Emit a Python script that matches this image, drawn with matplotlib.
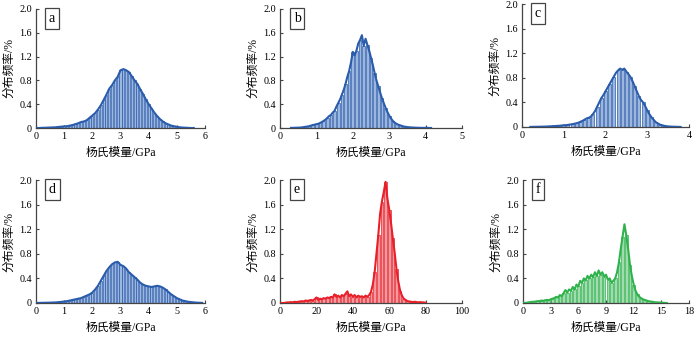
import numpy as np
import matplotlib
matplotlib.use("Agg")
import matplotlib.pyplot as plt

plt.rcParams['font.family'] = ['Liberation Serif', 'Noto Sans CJK SC', 'DejaVu Sans']

W, H = 698, 342

# ---------------- data ----------------
labels = ['a', 'b', 'c', 'd', 'e', 'f']
xlabel_text = '杨氏模量/GPa'
ylabel_text = '分布频率/%'

a_start, a_step = 0.0, 0.1
a_vals = [0.0, 0.0, 0.003, 0.004, 0.006, 0.008, 0.01, 0.012, 0.018, 0.022,
          0.028, 0.03, 0.04, 0.05, 0.065, 0.08, 0.10, 0.11, 0.13, 0.17,
          0.21, 0.25, 0.31, 0.38, 0.47, 0.56, 0.66, 0.72, 0.80, 0.86,
          0.97, 0.99, 0.97, 0.94, 0.87, 0.80, 0.74, 0.65, 0.57, 0.48,
          0.40, 0.33, 0.26, 0.20, 0.15, 0.11, 0.08, 0.06, 0.04, 0.03,
          0.02, 0.012, 0.008, 0.005, 0.003, 0.0, 0.0]

b_start, b_step = 0.3, 0.05
b_vals = [0.002, 0.003, 0.004, 0.005, 0.006, 0.008, 0.010, 0.015, 0.020, 0.025,
          0.030, 0.040, 0.050, 0.055, 0.065, 0.070, 0.085, 0.10, 0.12, 0.14,
          0.17, 0.20, 0.22, 0.26, 0.29, 0.36, 0.42, 0.48, 0.56, 0.64,
          0.74, 0.86, 0.96, 1.10, 1.28, 1.22, 1.30, 1.42, 1.48, 1.56,
          1.38, 1.50, 1.40, 1.30, 1.18, 1.06, 0.92, 0.80, 0.70, 0.60,
          0.50, 0.42, 0.34, 0.27, 0.21, 0.16, 0.12, 0.09, 0.07, 0.055,
          0.045, 0.035, 0.025, 0.02, 0.015, 0.012, 0.010, 0.008, 0.006, 0.005,
          0.004, 0.003, 0.003, 0.002, 0.004, 0.002, 0.001, 0.0]

c_start, c_step = 0.2, 0.05
c_vals = [0.002, 0.002, 0.003, 0.004, 0.004, 0.005, 0.006, 0.007, 0.008, 0.010,
          0.012, 0.014, 0.016, 0.018, 0.020, 0.024, 0.028, 0.030, 0.034, 0.040,
          0.045, 0.052, 0.060, 0.070, 0.085, 0.10, 0.12, 0.14, 0.15, 0.17,
          0.21, 0.26, 0.33, 0.40, 0.47, 0.52, 0.58, 0.64, 0.70, 0.76,
          0.82, 0.88, 0.92, 0.95, 0.93, 0.95, 0.90, 0.86, 0.81, 0.74,
          0.66, 0.58, 0.50, 0.44, 0.40, 0.34, 0.27, 0.21, 0.16, 0.12,
          0.08, 0.06, 0.04, 0.03, 0.02, 0.014, 0.010, 0.007, 0.005, 0.004,
          0.003, 0.002, 0.001]

d_start, d_step = 0.0, 0.1
d_vals = [0.0, 0.002, 0.003, 0.004, 0.005, 0.006, 0.008, 0.010, 0.014, 0.018,
          0.024, 0.03, 0.04, 0.05, 0.06, 0.07, 0.08, 0.10, 0.12, 0.14,
          0.17, 0.22, 0.28, 0.36, 0.44, 0.52, 0.58, 0.63, 0.66, 0.67,
          0.62, 0.60, 0.56, 0.50, 0.46, 0.42, 0.38, 0.33, 0.30, 0.28,
          0.27, 0.26, 0.27, 0.28, 0.27, 0.25, 0.22, 0.18, 0.14, 0.11,
          0.08, 0.06, 0.04, 0.03, 0.02, 0.015, 0.01, 0.006, 0.004, 0.002]

e_start, e_step = 0.0, 1.0
e_vals = [0.0, 0.0, 0.0, 0.005, 0.01, 0.01, 0.015, 0.01, 0.02, 0.015,
          0.02, 0.025, 0.03, 0.025, 0.04, 0.035, 0.04, 0.05, 0.04, 0.06,
          0.09, 0.05, 0.07, 0.06, 0.08, 0.07, 0.09, 0.08, 0.10, 0.09,
          0.14, 0.10, 0.12, 0.09, 0.13, 0.11, 0.15, 0.19, 0.11, 0.14,
          0.10, 0.13, 0.09, 0.12, 0.10, 0.11, 0.09, 0.12, 0.10, 0.13,
          0.18, 0.30, 0.50, 0.80, 1.10, 1.45, 1.65, 1.80, 1.97, 1.70,
          1.52, 1.30, 1.05, 0.82, 0.55, 0.35, 0.20, 0.12, 0.07, 0.05,
          0.03, 0.025, 0.02, 0.015, 0.02, 0.015, 0.01, 0.015, 0.01, 0.01,
          0.005]

f_start, f_step = 0.0, 0.2
f_vals = [0.0, 0.0, 0.005, 0.01, 0.015, 0.02, 0.02, 0.025, 0.03, 0.03,
          0.04, 0.035, 0.045, 0.05, 0.045, 0.06, 0.07, 0.08, 0.10, 0.09,
          0.13, 0.11, 0.16, 0.21, 0.17, 0.22, 0.20, 0.26, 0.22, 0.30,
          0.27, 0.36, 0.33, 0.40, 0.37, 0.44, 0.40, 0.46, 0.42, 0.50,
          0.44, 0.53, 0.46, 0.50, 0.43, 0.46, 0.38, 0.40, 0.33, 0.36,
          0.40, 0.50, 0.66, 0.88, 1.08, 1.28, 1.10, 0.88, 0.62, 0.44,
          0.30, 0.20, 0.14, 0.10, 0.08, 0.06, 0.05, 0.04, 0.03, 0.025,
          0.02, 0.015, 0.01, 0.01, 0.008, 0.006, 0.004, 0.002, 0.0]

x_maxes = [6, 5, 4, 6, 100, 18]
x_tick_steps = [1, 1, 1, 1, 20, 3]
y_ticks = [0, 0.4, 0.8, 1.2, 1.6, 2.0]
y_tick_labels = ['0', '0.4', '0.8', '1.2', '1.6', '2.0']

series = [(a_start, a_step, a_vals), (b_start, b_step, b_vals), (c_start, c_step, c_vals),
          (d_start, d_step, d_vals), (e_start, e_step, e_vals), (f_start, f_step, f_vals)]

blue = ('#2a5cab', '#9cb6de')
red = ('#e8202a', '#f29aa0')
green = ('#2fb24c', '#a3dbb0')
colors = [blue, blue, blue, blue, red, green]
bar_every = [1, 2, 2, 1, 2, 2]

# axes boxes in pixels: left, right, top, bottom
boxes = [(36, 205, 9, 128), (280, 462, 9, 128), (522, 689, 4, 127),
         (36, 205, 180, 303), (280, 462, 180, 303), (523, 689, 180, 303)]

fig = plt.figure(figsize=(W / 100, H / 100), dpi=100)
spine_c = '#444444'

for i in range(6):
    l, r, t, b = boxes[i]
    ax = fig.add_axes([l / W, (H - b) / H, (r - l) / W, (b - t) / H])
    start, step, vals = series[i]
    vals = np.array(vals)
    xs = start + step * np.arange(len(vals))
    line_c, fill_c = colors[i]
    k = bar_every[i]
    ax.bar(xs[::k], vals[::k], width=step * k * 0.72, color=fill_c,
           edgecolor=line_c, linewidth=0.5, align='center', zorder=2)
    ax.plot(xs, vals, color=line_c, lw=1.5, zorder=3)
    ax.set_xlim(0, x_maxes[i])
    ax.set_ylim(0, 2.0)
    ticks = np.arange(0, x_maxes[i] + 1e-9, x_tick_steps[i])
    ax.set_xticks(ticks)
    ax.set_xticklabels([f'{v:g}' for v in ticks])
    ax.set_yticks(y_ticks)
    ax.set_yticklabels(y_tick_labels)
    for s in ['top', 'right']:
        ax.spines[s].set_visible(False)
    for s in ['left', 'bottom']:
        ax.spines[s].set_color(spine_c)
        ax.spines[s].set_linewidth(0.9)
    ax.tick_params(direction='in', length=2.5, width=0.8, color=spine_c,
                   labelsize=7.3, pad=3)
    ax.set_xlabel(xlabel_text, fontsize=8.5, labelpad=4)
    ax.set_ylabel(ylabel_text, fontsize=8.5, labelpad=3)
    ax.text(0.075, 0.975, labels[i], transform=ax.transAxes, fontsize=10,
            ha='left', va='top',
            bbox=dict(boxstyle='square,pad=0.28', fc='white', ec=spine_c, lw=0.9))

fig.savefig('out.png', dpi=100)
